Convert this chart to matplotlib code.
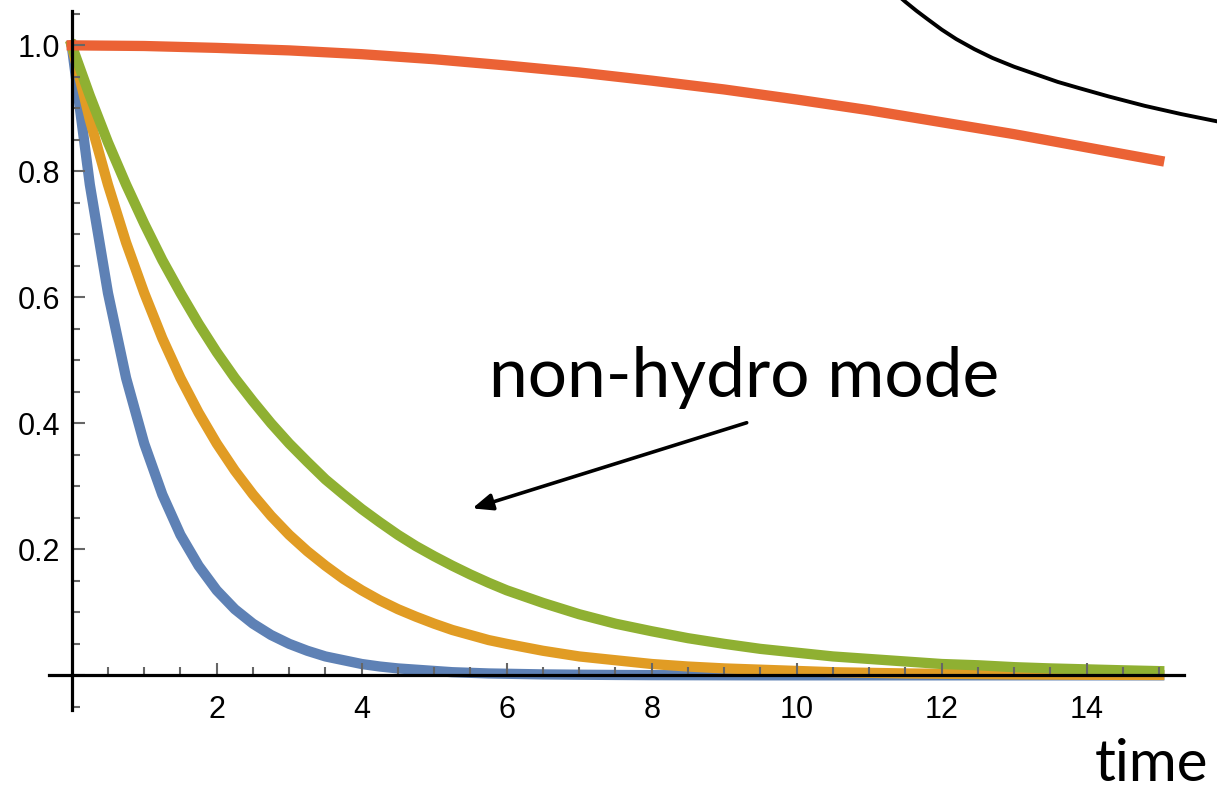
import matplotlib
matplotlib.use("Agg")
import matplotlib.pyplot as plt
from matplotlib.ticker import FixedLocator, NullFormatter

# sample times shared by the three decaying modes
T = [0, 0.25, 0.5, 0.75, 1, 1.25, 1.5, 1.75, 2, 2.25, 2.5, 2.75, 3, 3.25, 3.5, 3.75,
     4, 4.25, 4.5, 4.75, 5, 5.25, 5.5, 5.75, 6,
     6.5, 7, 7.5, 8, 8.5, 9, 9.5, 10, 10.5, 11, 11.5, 12, 12.5, 13, 13.5, 14, 14.5, 15]
BLUE = [1.0, 0.779, 0.607, 0.472, 0.368, 0.287, 0.223, 0.174, 0.135, 0.105, 0.082, 0.064,
        0.050, 0.039, 0.030, 0.024, 0.018, 0.014, 0.011, 0.009, 0.007, 0.005, 0.004, 0.003,
        0.0025,
        0.0015, 0.001, 0.0006, 0.0003, 0.0002, 0.0001, 0, 0, 0, 0, 0, 0, 0, 0, 0, 0, 0, 0]
ORANGE = [1.0, 0.882, 0.779, 0.687, 0.607, 0.535, 0.472, 0.417, 0.368, 0.325, 0.287, 0.253,
          0.223, 0.197, 0.174, 0.153, 0.135, 0.119, 0.105, 0.093, 0.082, 0.072, 0.064, 0.056,
          0.050,
          0.039, 0.030, 0.024, 0.018, 0.014, 0.011, 0.009, 0.007, 0.005, 0.004, 0.003, 0.0025,
          0.002, 0.0015, 0.0012, 0.0009, 0.0007, 0.0006]
GREEN = [1.0, 0.920, 0.846, 0.779, 0.717, 0.659, 0.607, 0.558, 0.513, 0.472, 0.435, 0.400,
         0.368, 0.339, 0.311, 0.287, 0.264, 0.243, 0.223, 0.205, 0.189, 0.174, 0.160, 0.147,
         0.135,
         0.115, 0.097, 0.082, 0.070, 0.059, 0.050, 0.042, 0.036, 0.030, 0.026, 0.022, 0.018,
         0.016, 0.013, 0.011, 0.0095, 0.008, 0.0067]

# slow (hydro) mode
T_RED = [0, 1, 2, 3, 4, 5, 6, 7, 8, 9, 10, 11, 12, 13, 14, 15]
RED = [1.0, 0.999, 0.996, 0.992, 0.986, 0.978, 0.968, 0.957, 0.944, 0.930, 0.914, 0.897,
       0.878, 0.859, 0.838, 0.817]

# thin black curve running off the top right
T_BLACK = [11.1, 11.2, 11.3, 11.4, 11.5, 11.65, 11.8, 12.0, 12.2, 12.45, 12.7, 13.0, 13.3,
           13.6, 13.9, 14.3, 14.8, 15.3, 15.9]
BLACK = [1.112, 1.100, 1.089, 1.079, 1.069, 1.055, 1.042, 1.025, 1.010, 0.994, 0.980, 0.966,
         0.954, 0.942, 0.932, 0.919, 0.904, 0.891, 0.877]

X_MAJOR = [2, 4, 6, 8, 10, 12, 14]
Y_MAJOR = [0, 0.2, 0.4, 0.6, 0.8, 1.0]
Y_LABELS = ["", "0.2", "0.4", "0.6", "0.8", "1.0"]

ANNOTATION = "non-hydro mode"
X_LABEL = "time"

COLORS = {"blue": "#5E81B5", "orange": "#E19C24", "green": "#8FB032", "red": "#EB6235"}
TICK_GREY = "#666666"


def main():
    fig = plt.figure(figsize=(12.17, 7.9), dpi=100)
    ax = fig.add_axes([0, 0, 1, 1])
    ax.set_xlim(-0.989, 15.797)
    ax.set_ylim(-0.182, 1.072)
    draw_axes(ax)

    lw = 7.4
    for t, y, c in [(T, BLUE, "blue"), (T, ORANGE, "orange"), (T, GREEN, "green"), (T_RED, RED, "red")]:
        ax.plot(t, y, color=COLORS[c], lw=lw, solid_capstyle="projecting", solid_joinstyle="round",
                zorder=2, clip_on=False)
    ax.plot(T_BLACK, BLACK, color="black", lw=2.8, zorder=2, solid_joinstyle="round")

    ax.annotate("", xy=(5.526, 0.265), xytext=(9.31, 0.401),
                arrowprops=dict(arrowstyle="-|>,head_length=0.6,head_width=0.25", lw=2.6,
                                color="black", mutation_scale=20, shrinkA=0, shrinkB=0))
    ax.text(9.27, 0.4417, ANNOTATION, ha="center", va="baseline", fontsize=50, family="Lato")
    ax.text(14.897, -0.168, X_LABEL, ha="center", va="baseline", fontsize=42, family="Lato")

    fig.savefig("out.png", dpi=100)


def draw_axes(ax):
    for side in ["top", "right"]:
        ax.spines[side].set_visible(False)
    ax.spines["left"].set_position(("data", 0))
    ax.spines["bottom"].set_position(("data", 0))
    ax.spines["left"].set_bounds(-0.055, 1.054)
    ax.spines["bottom"].set_bounds(-0.32, 15.34)
    for side in ["left", "bottom"]:
        ax.spines[side].set_linewidth(2.3)
        ax.spines[side].set_color("black")
        ax.spines[side].set_zorder(3)
    ax.set_axisbelow(False)

    ax.set_xticks(X_MAJOR)
    ax.set_xticklabels([str(v) for v in X_MAJOR])
    ax.xaxis.set_minor_locator(FixedLocator([i * 0.5 for i in range(1, 31) if (i * 0.5) % 2 != 0]))
    ax.set_yticks(Y_MAJOR)
    ax.set_yticklabels(Y_LABELS)
    ax.yaxis.set_minor_locator(FixedLocator([round(-0.05 + i * 0.05, 2) for i in range(23)
                                             if round(-0.05 + i * 0.05, 2) not in Y_MAJOR]))
    ax.xaxis.set_minor_formatter(NullFormatter())
    ax.yaxis.set_minor_formatter(NullFormatter())

    ax.tick_params(which="both", direction="in", color=TICK_GREY, width=1.5)
    ax.tick_params(which="major", length=9)
    ax.tick_params(which="minor", length=5.5)
    ax.tick_params(axis="x", which="major", pad=14, labelsize=22)
    ax.tick_params(axis="y", which="major", pad=8, labelsize=22)
    for lab in ax.get_xticklabels() + ax.get_yticklabels():
        lab.set_family("Liberation Sans")


if __name__ == "__main__":
    main()
